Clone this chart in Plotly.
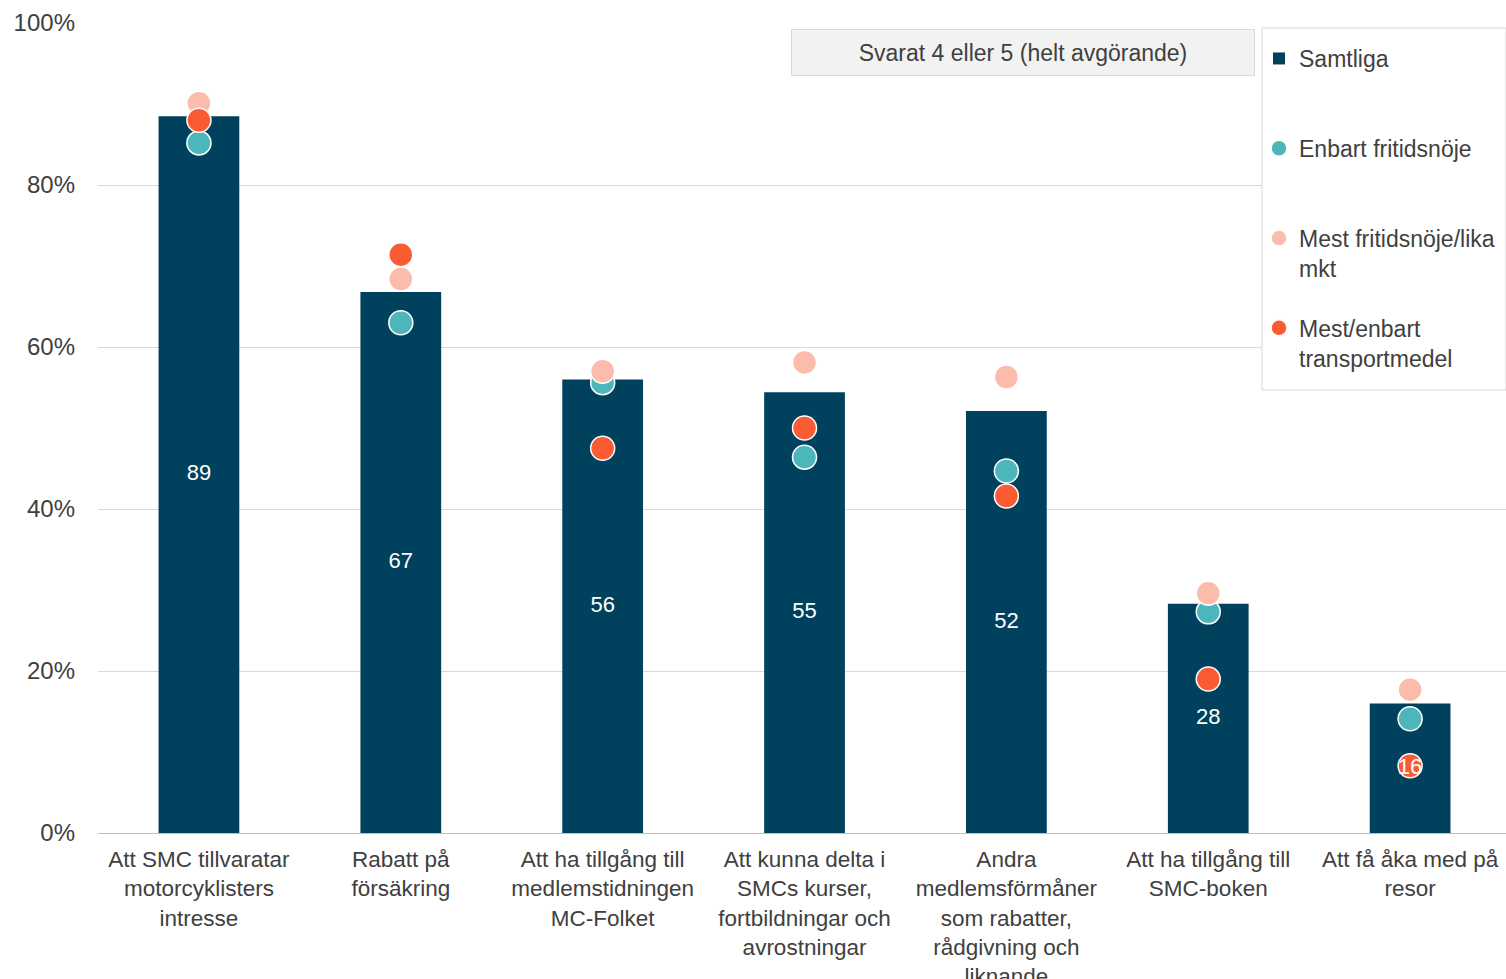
import plotly.graph_objects as go

categories = [
    "Att SMC tillvaratar<br>motorcyklisters<br>intresse",
    "Rabatt på<br>försäkring",
    "Att ha tillgång till<br>medlemstidningen<br>MC-Folket",
    "Att kunna delta i<br>SMCs kurser,<br>fortbildningar och<br>avrostningar",
    "Andra<br>medlemsförmåner<br>som rabatter,<br>rådgivning och<br>liknande",
    "Att ha tillgång till<br>SMC-boken",
    "Att få åka med på<br>resor",
]
samtliga = [88.5, 66.8, 56.0, 54.4, 52.1, 28.3, 16.0]
samtliga_labels = ["89", "67", "56", "55", "52", "28", "16"]
enbart_fritid = [85.2, 63.0, 55.6, 46.4, 44.7, 27.3, 14.1]
mest_fritid = [90.1, 68.4, 57.0, 58.1, 56.3, 29.6, 17.7]
mest_transport = [88.0, 71.4, 47.5, 50.0, 41.6, 19.0, 8.3]
y_ticks = [0, 20, 40, 60, 80, 100]
y_tick_text = ["0%", "20%", "40%", "60%", "80%", "100%"]

FONT = "Liberation Sans, Arial, sans-serif"
TXT = "#404040"
BAR = "#00425e"
TEAL = "#4db6bb"
PINK = "#fcbcab"
RED = "#f95b33"

# pixel geometry helpers (plot area: x 98..1506, y 23..833)
PX0, PX1, PY0, PY1 = 98, 1506, 23, 833
def px(x):
    return (x - PX0) / (PX1 - PX0)
def py(y):
    return (PY1 - y) / (PY1 - PY0)

fig = go.Figure()
fig.add_trace(go.Bar(
    x=categories, y=samtliga, name="Samtliga<br> ",
    marker=dict(color=BAR, line=dict(width=0)),
    legendgroup="a", hoverinfo="y",
))
for vals, nm, col, grp in [
    (enbart_fritid, "Enbart fritidsnöje<br> ", TEAL, "b"),
    (mest_fritid, "Mest fritidsnöje/lika<br>mkt", PINK, "c"),
    (mest_transport, "Mest/enbart<br>transportmedel", RED, "d"),
]:
    fig.add_trace(go.Scatter(
        x=categories, y=vals, name=nm, mode="markers",
        marker=dict(color=col, size=24, line=dict(color="white", width=1.5)),
        legendgroup=grp,
    ))
# bar value labels drawn on top of the markers
fig.add_trace(go.Scatter(
    x=categories, y=[v / 2 for v in samtliga], mode="text",
    text=samtliga_labels, textfont=dict(color="white", size=22, family=FONT),
    showlegend=False, hoverinfo="skip",
))

fig.update_layout(
    width=1506, height=979,
    margin=dict(l=PX0, r=1506 - PX1, t=PY0, b=979 - PY1, autoexpand=False),
    paper_bgcolor="white", plot_bgcolor="white",
    font=dict(family=FONT, size=23, color=TXT),
    bargap=0.6,
    showlegend=True,
    legend=dict(
        x=px(1259), y=py(37), xanchor="left", yanchor="top",
        bgcolor="rgba(0,0,0,0)", borderwidth=0,
        font=dict(size=23, color=TXT), valign="top",
        tracegroupgap=27, itemwidth=30,
    ),
    shapes=[dict(
        type="rect", xref="paper", yref="paper", layer="above",
        x0=px(1262), x1=1.0, y0=py(390), y1=py(28),
        fillcolor="white", line=dict(color="#d9d9d9", width=1),
    )],
    annotations=[dict(
        x=px(1023), y=py(52.5), xref="paper", yref="paper",
        xanchor="center", yanchor="middle",
        text="Svarat 4 eller 5 (helt avgörande)",
        showarrow=False, font=dict(size=23, color=TXT),
        bgcolor="#f2f2f2", bordercolor="#d9d9d9", borderwidth=1,
        width=460, height=43,
    )],
)

fig.update_xaxes(
    showgrid=False, showline=True, linecolor="#bfbfbf", linewidth=1,
    tickfont=dict(size=22.5, color=TXT), ticks="", range=[-0.5, 6.475],
    ticklabelstandoff=6, automargin=False,
)
fig.update_yaxes(
    range=[0, 100], tickvals=y_ticks, ticktext=y_tick_text,
    showgrid=True, gridcolor="#d9d9d9", gridwidth=1, zeroline=False,
    tickfont=dict(size=24, color=TXT), ticklabelstandoff=22,
    automargin=False,
)

fig.write_html(
    "out.html",
    config={"displayModeBar": False},
    post_script="document.body.style.margin='0px';document.body.style.overflow='hidden';",
)
